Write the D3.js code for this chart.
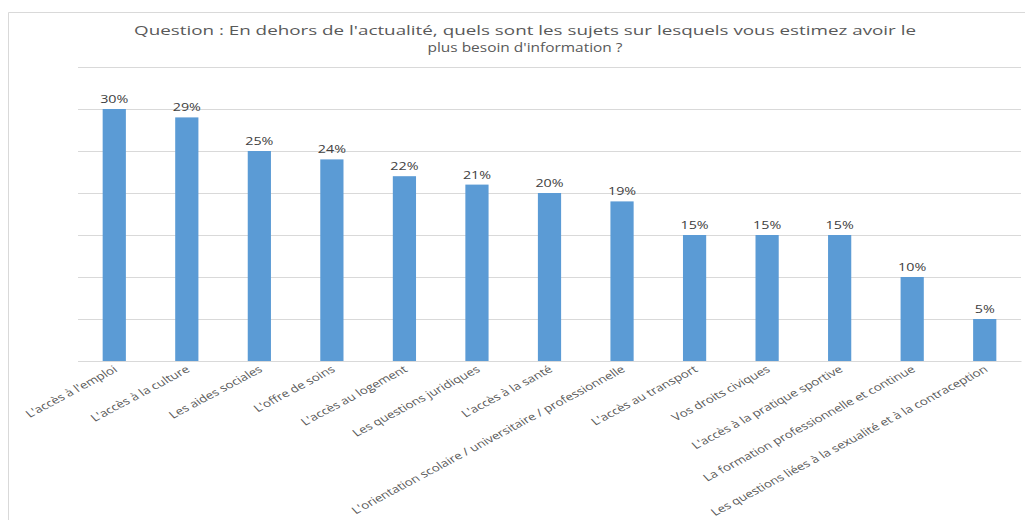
<!DOCTYPE html>
<html>
<head>
<meta charset="utf-8">
<script src="https://cdn.jsdelivr.net/npm/d3@7"></script>
<style>
    body { margin: 0; background: #fff; }
    svg { display: block; font-family: "Open Sans", "DejaVu Sans", sans-serif; }
</style>
</head>
<body>
<div id="chart"></div>
<script>
// Data
const categories = [
    "L'accès à l'emploi",
    "L'accès à la culture",
    "Les aides sociales",
    "L'offre de soins",
    "L'accès au logement",
    "Les questions juridiques",
    "L'accès à la santé",
    "L'orientation scolaire / universitaire / professionnelle",
    "L'accès au transport",
    "Vos droits civiques",
    "L'accès à la pratique sportive",
    "La formation professionnelle et continue",
    "Les questions liées à la sexualité et à la contraception"
];
const values = [30, 29, 25, 24, 22, 21, 20, 19, 15, 15, 15, 10, 5];
const yTicks = [0, 5, 10, 15, 20, 25, 30, 35];
const titleLines = [
    "Question :  En dehors de l'actualité, quels sont les sujets sur lesquels vous estimez avoir le",
    "plus besoin d'information ?"
];

const width = 1025;
const height = 520;
const margin = { top: 67, right: 4, bottom: 159, left: 78 };
//the reference is stretched sideways, so text is widened a bit
const stretch = 1.3;

const svg = d3.select("#chart")
    .append("svg")
    .attr("width", width)
    .attr("height", height);

//Chart frame (only top and left edges visible)
svg.append("path")
    .attr("d", `M8.5,${height} V12.5 H${width}`)
    .attr("fill", "none")
    .attr("stroke", "#d9d9d9")
    .attr("stroke-width", 1);

//Title
svg.append("g")
    .selectAll("text")
    .data(titleLines)
    .enter().append("text")
    .attr("x", 525)
    .attr("y", (d, i) => 35 + i * 17)
    .attr("text-anchor", "middle")
    .attr("fill", "#595959")
    .style("font-size", "13px")
    .attr("textLength", (d, i) => i === 0 ? 782 : 195)
    .attr("lengthAdjust", "spacingAndGlyphs")
    .text(d => d);

//Scales
const x = d3.scaleBand()
    .domain(categories)
    .range([margin.left, width - margin.right])
    .paddingInner(0.68)
    .paddingOuter(0.34);

const y = d3.scaleLinear()
    .domain([0, 35])
    .range([height - margin.bottom, margin.top]);

//Gridlines
svg.append("g")
    .attr("transform", `translate(${margin.left},0)`)
    .call(d3.axisLeft(y).tickValues(yTicks).tickSize(-(width - margin.right - margin.left)).tickFormat(""))
    .call(g => g.select(".domain").remove())
    .call(g => g.selectAll("line").attr("stroke", "#d9d9d9"));

//Bars
svg.append("g")
    .selectAll("rect")
    .data(values)
    .enter().append("rect")
    .attr("x", (d, i) => x(categories[i]))
    .attr("width", x.bandwidth())
    .attr("y", d => y(d))
    .attr("height", d => y(0) - y(d))
    .attr("fill", "#5b9bd5");

//Value labels
svg.append("g")
    .selectAll("text")
    .data(values)
    .enter().append("text")
    .attr("transform", (d, i) => `translate(${x(categories[i]) + x.bandwidth() / 2},${y(d) - 6}) scale(${stretch},1)`)
    .attr("text-anchor", "middle")
    .attr("fill", "#404040")
    .style("font-size", "11px")
    .text(d => d + "%");

//X axis labels (rotated)
svg.append("g")
    .attr("transform", `translate(0,${y(0)})`)
    .call(d3.axisBottom(x).tickSize(0).tickPadding(0))
    .call(g => g.select(".domain").attr("stroke", "#d9d9d9"))
    .call(g => g.selectAll(".tick text")
        .attr("text-anchor", "end")
        .attr("fill", "#595959")
        .attr("font-family", "'Open Sans', 'DejaVu Sans', sans-serif")
        .style("font-size", "10.3px")
        .attr("dy", 0)
        .attr("transform", `translate(4,10) scale(${stretch},1) rotate(-34.6)`));
</script>
</body>
</html>
